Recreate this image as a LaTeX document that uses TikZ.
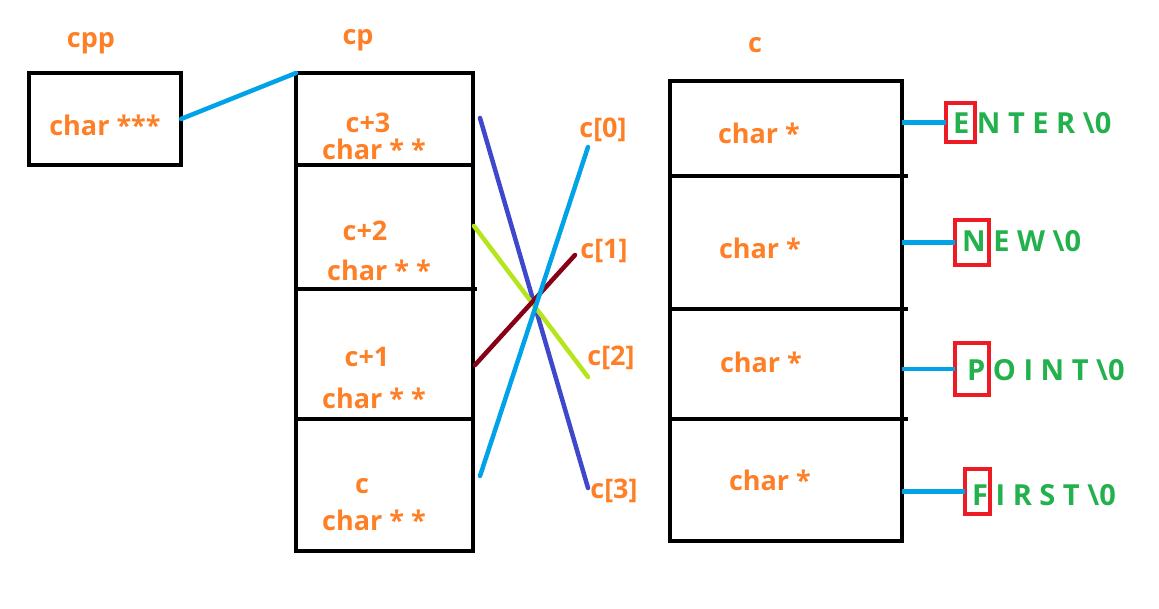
\documentclass[tikz,border=0pt]{standalone}
\usepackage{fontspec}
\setmainfont{Open Sans}
\definecolor{ora}{HTML}{FF7F27}
\definecolor{grn}{HTML}{22B14C}
\definecolor{rd}{HTML}{ED1C24}
\definecolor{lblue}{HTML}{00A2E8}
\definecolor{dblue}{HTML}{3F48CC}
\definecolor{ygreen}{HTML}{B5E61D}
\definecolor{dred}{HTML}{880015}
\begin{document}
\begin{tikzpicture}[x=1pt,y=-1pt,
  lbl/.style={text=ora, font=\fontsize{27}{30}\selectfont\bfseries, anchor=base, inner sep=0pt},
  gtxt/.style={text=grn, font=\fontsize{29}{32}\selectfont\bfseries, anchor=base west, inner sep=0pt},
  cell/.style 2 args={draw=black, line width=4pt, inner sep=0pt, outer sep=0pt, minimum width=#1, minimum height=#2},
  rbox/.style 2 args={draw=rd, line width=4pt, inner sep=0pt, outer sep=0pt, minimum width=#1, minimum height=#2},
  tick/.style={draw=black, line width=4pt},
  wire/.style={line width=4.5pt, line cap=round}]
\useasboundingbox (0,0) rectangle (1159,608);
% cpp
\node[cell={152}{92}] (cpp) at (105,119) {};
\node[lbl] (cppl) at (91,47) {cpp};
\node[lbl] (cppt) at (105,135) {char ***};
% cp cells
\node[cell={177}{92}] (cp3) at (384.5,119) {};
\node[cell={177}{124}] (cp2) at (384.5,227) {};
\node[cell={177}{130}] (cp1) at (384.5,354) {};
\node[cell={177}{132}] (cp0) at (384.5,485) {};
\node[lbl] (cpl) at (358,44) {cp};
\node[lbl] (t3a) at (368,132) {c+3};
\node[lbl] (t3b) at (374,159) {char * *};
\node[lbl] (t2a) at (365,240) {c+2};
\node[lbl] (t2b) at (379,280) {char * *};
\node[lbl] (t1a) at (367,366) {c+1};
\node[lbl] (t1b) at (374,408) {char * *};
\node[lbl] (t0a) at (362,493) {c};
\node[lbl] (t0b) at (374,530) {char * *};
\draw[tick] (cp2.south east) -- ++(4,0);
% c cells
\node[cell={232}{95}] (cc0) at (786,128.5) {};
\node[cell={232}{133}] (cc1) at (786,242.5) {};
\node[cell={232}{110}] (cc2) at (786,364) {};
\node[cell={232}{122}] (cc3) at (786,480) {};
\draw[tick] (cc0.south east) -- ++(6,0);
\draw[tick] (cc1.south east) -- ++(6,0);
\draw[tick] (cc2.south east) -- ++(6,0);
\node[lbl] (cl) at (755,52) {c};
\node[lbl] (ct0) at (759,143) {char *};
\node[lbl] (ct1) at (760,258) {char *};
\node[lbl] (ct2) at (761,372) {char *};
\node[lbl] (ct3) at (770,490) {char *};
% index labels
\node[lbl] (i0) at (603,137) {c[0]};
\node[lbl] (i1) at (604,258) {c[1]};
\node[lbl] (i2) at (611,365) {c[2]};
\node[lbl] (i3) at (614,498) {c[3]};
% red boxes and strings
\node[rbox={29}{39}] (rb0) at (960.5,122.5) {};
\node[rbox={34}{45}] (rb1) at (972,242.5) {};
\node[rbox={34}{52}] (rb2) at (972,369) {};
\node[rbox={25}{45}] (rb3) at (977.5,491.5) {};
\node[gtxt] (s0) at (953,133) {E N T E R \textbackslash0};
\node[gtxt] (s1) at (962,251) {N E W \textbackslash0};
\node[gtxt] (s2) at (967,380) {P O I N T \textbackslash0};
\node[gtxt] (s3) at (972,505) {F I R S T \textbackslash0};
% connectors
\coordinate (a3) at (480,118);
\coordinate (a2) at (474,226);
\coordinate (a1) at (475,365);
\coordinate (a0) at (480,476);
\coordinate (e0) at (588,147);
\coordinate (e1) at (575,255);
\coordinate (e2) at (588,377);
\coordinate (e3) at (588,488);
\draw[wire, lblue] (cpp.east) -- (cp3.north west);
\draw[wire, dblue] (a3) -- (e3);
\draw[wire, ygreen] (a2) -- (e2);
\draw[wire, dred] (a1) -- (e1);
\draw[wire, lblue] (a0) -- (e0);
\draw[wire, lblue, line cap=butt] (cc0.east |- rb0.west) -- (rb0.west);
\draw[wire, lblue, line cap=butt] (cc1.east |- rb1.west) -- (rb1.west);
\draw[wire, lblue, line cap=butt] (cc2.east |- rb2.west) -- (rb2.west);
\draw[wire, lblue, line cap=butt] (cc3.east |- rb3.west) -- (rb3.west);
\end{tikzpicture}
\end{document}
